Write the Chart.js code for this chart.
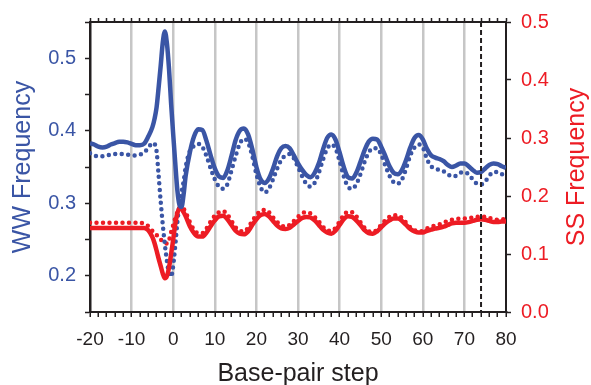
<!DOCTYPE html>
<html>
<head>
<meta charset="utf-8">
<script src="https://cdn.jsdelivr.net/npm/chart.js@4.4.1/dist/chart.umd.min.js"></script>
<style>
  html, body { margin: 0; padding: 0; background: #fff; }
  canvas { display: block; }
</style>
</head>
<body>
<canvas id="freqChart" width="591" height="385"></canvas>
<script>
// --- Data ---
// base-pair step positions (half steps around the spike at -2)
const steps = [
  -20, -19, -18, -17, -16, -15, -14, -13, -12, -11, -10, -9, -8, -7, -6, -5,
  -4.5, -4, -3.5, -3, -2.5, -2, -1.5, -1, -0.5, 0, 0.5, 1, 1.5, 2, 2.5, 3,
  4, 5, 6, 7, 8, 9, 10, 11, 12, 13,
  14, 15, 16, 17, 18, 19, 20, 21, 22, 23,
  24, 25, 26, 27, 28, 29, 30, 31, 32, 33,
  34, 35, 36, 37, 38, 39, 40, 41, 42, 43,
  44, 45, 46, 47, 48, 49, 50, 51, 52, 53,
  54, 55, 56, 57, 58, 59, 60, 61, 62, 63,
  64, 65, 66, 67, 68, 69, 70, 71, 72, 73,
  74, 75, 76, 77, 78, 79, 80
];

// WW frequency, solid (left axis)
const wwSolid = [
  0.383, 0.381, 0.378, 0.377, 0.378, 0.381, 0.383, 0.385, 0.385, 0.384, 0.382, 0.380, 0.380, 0.382, 0.392, 0.405,
  0.416, 0.432, 0.460, 0.490, 0.522, 0.537, 0.520, 0.485, 0.437, 0.395, 0.355, 0.318, 0.298, 0.295, 0.312, 0.338,
  0.370, 0.392, 0.402, 0.401, 0.386, 0.366, 0.348, 0.337, 0.335, 0.345,
  0.365, 0.387, 0.400, 0.403, 0.395, 0.375, 0.350, 0.333, 0.328, 0.334,
  0.348, 0.365, 0.376, 0.379, 0.376, 0.366, 0.355, 0.346, 0.339, 0.336,
  0.342, 0.355, 0.374, 0.390, 0.395, 0.388, 0.370, 0.350, 0.336, 0.334,
  0.342, 0.357, 0.373, 0.385, 0.389, 0.388, 0.378, 0.365, 0.351, 0.342,
  0.340, 0.346, 0.360, 0.377, 0.390, 0.394, 0.388, 0.375, 0.366, 0.363,
  0.361, 0.358, 0.353, 0.350, 0.352, 0.355, 0.355, 0.351, 0.346, 0.342,
  0.343, 0.348, 0.353, 0.355, 0.354, 0.351, 0.349
];

// WW frequency, dotted (left axis)
const wwDotted = [
  0.369, 0.366, 0.365, 0.365, 0.366, 0.367, 0.368, 0.368, 0.368, 0.367, 0.366, 0.366, 0.367, 0.370, 0.376, 0.383,
  0.382, 0.372, 0.338, 0.302, 0.270, 0.243, 0.220, 0.203, 0.199, 0.214, 0.242, 0.274, 0.299, 0.315, 0.330, 0.350,
  0.372, 0.379, 0.382, 0.378, 0.365, 0.348, 0.333, 0.323, 0.320, 0.326,
  0.345, 0.365, 0.382, 0.389, 0.384, 0.365, 0.340, 0.322, 0.315, 0.320,
  0.333, 0.348, 0.360, 0.366, 0.368, 0.362, 0.350, 0.337, 0.327, 0.323,
  0.328, 0.342, 0.360, 0.375, 0.381, 0.376, 0.358, 0.337, 0.323, 0.320,
  0.326, 0.340, 0.357, 0.370, 0.376, 0.376, 0.367, 0.352, 0.338, 0.329,
  0.327, 0.333, 0.348, 0.366, 0.377, 0.381, 0.377, 0.361, 0.351, 0.348,
  0.346, 0.344, 0.340, 0.337, 0.338, 0.342, 0.343, 0.340, 0.333, 0.327,
  0.326, 0.330, 0.338, 0.343, 0.343, 0.340, 0.337
];

// SS frequency, solid (right axis)
const ssSolid = [
  0.145, 0.145, 0.145, 0.145, 0.145, 0.145, 0.145, 0.145, 0.145, 0.145, 0.145, 0.145, 0.145, 0.145, 0.141, 0.129,
  0.119, 0.106, 0.092, 0.079, 0.066, 0.058, 0.062, 0.077, 0.100, 0.125, 0.152, 0.170, 0.179, 0.178, 0.172, 0.165,
  0.148, 0.136, 0.130, 0.130, 0.137, 0.148, 0.158, 0.165, 0.166, 0.160,
  0.150, 0.140, 0.135, 0.134, 0.139, 0.150, 0.160, 0.167, 0.169, 0.165,
  0.157, 0.149, 0.144, 0.143, 0.145, 0.151, 0.157, 0.162, 0.164, 0.163,
  0.158, 0.150, 0.142, 0.137, 0.135, 0.140, 0.150, 0.160, 0.165, 0.164,
  0.158, 0.150, 0.141, 0.136, 0.135, 0.139, 0.146, 0.153, 0.158, 0.161,
  0.161, 0.157, 0.150, 0.143, 0.139, 0.137, 0.137, 0.140, 0.142, 0.144,
  0.145, 0.147, 0.150, 0.153, 0.154, 0.154, 0.154, 0.155, 0.157, 0.159,
  0.160, 0.159, 0.157, 0.155, 0.155, 0.156, 0.156
];

// SS frequency, dotted (right axis)
const ssDotted = [
  0.154, 0.154, 0.154, 0.154, 0.154, 0.154, 0.154, 0.154, 0.154, 0.154, 0.154, 0.154, 0.154, 0.152, 0.148, 0.140,
  0.137, 0.133, 0.129, 0.125, 0.121, 0.119, 0.118, 0.124, 0.138, 0.150, 0.162, 0.172, 0.180, 0.182, 0.178, 0.172,
  0.155, 0.142, 0.136, 0.136, 0.144, 0.156, 0.166, 0.172, 0.174, 0.168,
  0.157, 0.146, 0.140, 0.139, 0.145, 0.157, 0.167, 0.174, 0.176, 0.172,
  0.163, 0.155, 0.149, 0.147, 0.150, 0.157, 0.164, 0.170, 0.172, 0.170,
  0.164, 0.156, 0.147, 0.141, 0.140, 0.145, 0.156, 0.167, 0.173, 0.172,
  0.165, 0.155, 0.145, 0.139, 0.138, 0.142, 0.150, 0.158, 0.164, 0.167,
  0.167, 0.162, 0.154, 0.146, 0.141, 0.139, 0.140, 0.144, 0.147, 0.149,
  0.151, 0.154, 0.157, 0.159, 0.160, 0.161, 0.161, 0.162, 0.163, 0.164,
  0.165, 0.164, 0.162, 0.160, 0.159, 0.160, 0.160
];

const markerStep = 74;   // dashed vertical line

// --- Styling ---
const BLUE = '#3a55a5';
const RED = '#ed1c24';
const INK = '#231f20';
const GRID = '#c6c6c6';
const FONT = '"Liberation Sans", Arial, sans-serif';

const toPoints = (vals) => steps.map((s, i) => ({ x: s, y: vals[i] }));

// titles and the dashed marker line
const extras = {
    id: 'extras',
    afterDatasetsDraw(chart) {
        const { ctx, chartArea: a } = chart;
        const xp = chart.scales.x.getPixelForValue(markerStep);
        ctx.save();
        ctx.strokeStyle = INK;
        ctx.lineWidth = 2;
        ctx.setLineDash([5, 3]);
        ctx.beginPath();
        ctx.moveTo(xp, a.top);
        ctx.lineTo(xp, a.bottom);
        ctx.stroke();
        ctx.restore();
    },
    afterDraw(chart) {
        const { ctx, chartArea: a } = chart;
        const midY = (a.top + a.bottom) / 2;
        ctx.save();
        ctx.font = '25px ' + FONT;
        ctx.textAlign = 'center';
        ctx.textBaseline = 'middle';

        ctx.fillStyle = INK;
        ctx.fillText('Base-pair step', (a.left + a.right) / 2, 374);

        ctx.save();
        ctx.fillStyle = BLUE;
        ctx.translate(23, midY);
        ctx.rotate(-Math.PI / 2);
        ctx.fillText('WW Frequency', 0, 0);
        ctx.restore();

        ctx.save();
        ctx.fillStyle = RED;
        ctx.translate(chart.width - 14, midY);
        ctx.rotate(-Math.PI / 2);
        ctx.fillText('SS Frequency', 0, 0);
        ctx.restore();

        ctx.restore();
    }
};

const ctx = document.getElementById('freqChart').getContext('2d');
new Chart(ctx, {
    type: 'line',
    data: {
        datasets: [
            { label: 'WW', data: toPoints(wwSolid), yAxisID: 'y', borderColor: BLUE, borderWidth: 4.5 },
            { label: 'SS', data: toPoints(ssSolid), yAxisID: 'y2', borderColor: RED, borderWidth: 4.5 },
            { label: 'WW dotted', data: toPoints(wwDotted), yAxisID: 'y', borderColor: BLUE, borderWidth: 4.5,
              borderDash: [0, 6.5], borderCapStyle: 'round' },
            { label: 'SS dotted', data: toPoints(ssDotted), yAxisID: 'y2', borderColor: RED, borderWidth: 4.5,
              borderDash: [0, 6.5], borderCapStyle: 'round' }
        ]
    },
    options: {
        responsive: false,
        animation: false,
        layout: { padding: 0 },
        elements: {
            point: { radius: 0 },
            line: { cubicInterpolationMode: 'monotone', fill: false }
        },
        plugins: { legend: { display: false }, tooltip: { enabled: false } },
        scales: {
            x: {
                type: 'linear', position: 'bottom', min: -20, max: 80,
                afterFit: (s) => { s.height = 73; },
                ticks: {
                    stepSize: 2, autoSkip: false, maxRotation: 0, padding: 11,
                    color: INK, font: { family: FONT, size: 19 },
                    callback: (v) => (v % 10 === 0 ? String(v) : '')
                },
                grid: {
                    color: (c) => (c.tick && c.tick.value % 10 === 0 && c.tick.value > -20 && c.tick.value < 80) ? GRID : 'rgba(0,0,0,0)',
                    lineWidth: 2.5, tickColor: INK, tickWidth: 1.5, tickLength: 5
                },
                border: { color: INK, width: 2 }
            },
            xTop: {
                type: 'linear', position: 'top', min: -20, max: 80,
                afterFit: (s) => { s.height = 17; },
                ticks: { stepSize: 2, autoSkip: false, display: false },
                grid: { drawOnChartArea: false, tickColor: INK, tickWidth: 1.5, tickLength: 4 },
                border: { color: INK, width: 2 }
            },
            y: {
                type: 'linear', position: 'left', min: 0.15, max: 0.55,
                afterFit: (s) => { s.width = 90; },
                ticks: {
                    stepSize: 0.05, autoSkip: false, padding: 9,
                    color: BLUE, font: { family: FONT, size: 20 },
                    callback: (v) => {
                        const r = Math.round(v * 100);
                        return r % 10 === 0 ? (r / 100).toFixed(1) : '';
                    }
                },
                grid: { drawOnChartArea: false, tickColor: INK, tickWidth: 1.5, tickLength: 5 },
                border: { color: INK, width: 2.5 }
            },
            y2: {
                type: 'linear', position: 'right', min: 0, max: 0.5,
                afterFit: (s) => { s.width = 85; },
                ticks: {
                    stepSize: 0.1, autoSkip: false, padding: 10,
                    color: RED, font: { family: FONT, size: 20 },
                    callback: (v) => v.toFixed(1)
                },
                grid: { drawOnChartArea: false, tickColor: INK, tickWidth: 1.5, tickLength: 5 },
                border: { color: INK, width: 2 }
            }
        }
    },
    plugins: [extras]
});
</script>
</body>
</html>
